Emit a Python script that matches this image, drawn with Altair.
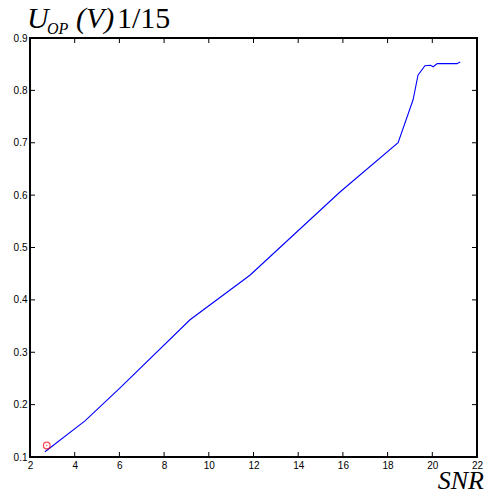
import altair as alt
import pandas as pd

# Measured curve: output voltage (scaled 1/15) against SNR
snr = [2.67, 4.46, 6.03, 9.16, 11.84, 15.87, 18.47, 19.14, 19.36, 19.67, 19.92, 20.04, 20.22, 21.10, 21.25]
u_op = [0.110, 0.169, 0.232, 0.362, 0.447, 0.606, 0.700, 0.782, 0.829, 0.847, 0.848, 0.845, 0.851, 0.851, 0.854]

# Single highlighted sample
mark_snr = [2.75]
mark_u = [0.122]

x_ticks = [2, 4, 6, 8, 10, 12, 14, 16, 18, 20, 22]
y_ticks = [0.1, 0.2, 0.3, 0.4, 0.5, 0.6, 0.7, 0.8, 0.9]

W, H = 447, 419
TICK = 5

curve = pd.DataFrame({"snr": snr, "u": u_op})
point = pd.DataFrame({"snr": mark_snr, "u": mark_u})
xt = pd.DataFrame({"t": x_ticks})
yt = pd.DataFrame({"t": y_ticks})
one = pd.DataFrame({"k": [0]})

xs = alt.Scale(domain=[2, 22], nice=False, zero=False)
ys = alt.Scale(domain=[0.1, 0.9], nice=False, zero=False)

x_axis = alt.Axis(values=x_ticks, title=None, grid=False, ticks=False, domain=False,
                  labelFont="Liberation Sans", labelFontSize=10, labelColor="#000",
                  labelPadding=3, labelFlush=False)
y_axis = alt.Axis(values=y_ticks, title=None, grid=False, ticks=False, domain=False,
                  labelFont="Liberation Sans", labelFontSize=10, labelColor="#000",
                  labelPadding=3, format=".1f", labelFlush=False)

line = alt.Chart(curve).mark_line(color="#0000ff", strokeWidth=1.1).encode(
    x=alt.X("snr:Q", scale=xs, axis=x_axis),
    y=alt.Y("u:Q", scale=ys, axis=y_axis),
)

marker = alt.Chart(point).mark_point(shape="circle", color="#ff0000", size=45,
                                     strokeWidth=1.2, filled=False).encode(
    x=alt.X("snr:Q", scale=xs), y=alt.Y("u:Q", scale=ys))
marker_dot = alt.Chart(point).mark_point(shape="circle", color="#ff0000", size=2,
                                         filled=True).encode(
    x=alt.X("snr:Q", scale=xs), y=alt.Y("u:Q", scale=ys))

# Inward ticks on all four sides of the box
xb = alt.Chart(xt).mark_rule(color="#000", strokeWidth=1).encode(
    x=alt.X("t:Q", scale=xs), y=alt.value(H), y2=alt.value(H - TICK))
xtop = alt.Chart(xt).mark_rule(color="#000", strokeWidth=1).encode(
    x=alt.X("t:Q", scale=xs), y=alt.value(0), y2=alt.value(TICK))
yl = alt.Chart(yt).mark_rule(color="#000", strokeWidth=1).encode(
    y=alt.Y("t:Q", scale=ys), x=alt.value(0), x2=alt.value(TICK))
yr = alt.Chart(yt).mark_rule(color="#000", strokeWidth=1).encode(
    y=alt.Y("t:Q", scale=ys), x=alt.value(W), x2=alt.value(W - TICK))

def label(text, x, y, size, style="italic", align="left"):
    return alt.Chart(one).mark_text(text=text, font="Liberation Serif", fontSize=size,
                                    fontStyle=style, align=align, baseline="alphabetic",
                                    color="#000").encode(x=alt.value(x), y=alt.value(y))

title_u = label("U", -3, -10, 30)
title_sub = label("OP", 17, -4, 16)
title_v = label("(V)", 46, -10, 30)
title_rest = label("1/15", 87, -10, 30, style="normal")
snr_label = label("SNR", W + 7, H + 32, 26, align="right")

chart = alt.layer(
    line, marker, marker_dot, xb, xtop, yl, yr,
    title_u, title_sub, title_v, title_rest, snr_label,
).properties(
    width=W, height=H,
    autosize=alt.AutoSizeParams(type="none"),
    padding={"left": 30, "top": 38, "right": 9, "bottom": 39},
).configure(
    background="white"
).configure_view(
    stroke="#000", strokeWidth=2
)

chart.save("out.html", embed_options={"renderer": "svg", "actions": False})
